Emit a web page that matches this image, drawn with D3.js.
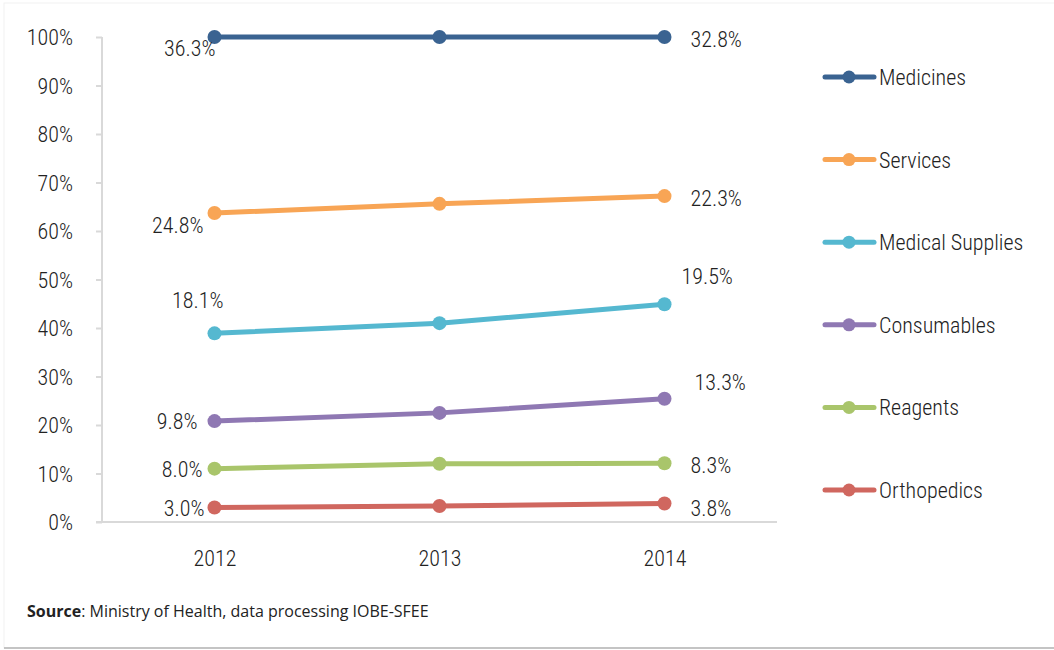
<!DOCTYPE html>
<html>
<head>
<meta charset="utf-8">
<script src="https://cdn.jsdelivr.net/npm/d3@7"></script>
<style>
  body { margin: 0; background: #fff; }
  text { fill: #222; }
  .lbl { font-family: "Liberation Sans Narrow", "Roboto Condensed", "Roboto", sans-serif; font-size: 22px; font-weight: 300; }
  .src { font-family: "Open Sans", "Roboto", sans-serif; font-size: 16px; }
</style>
</head>
<body>
<svg id="chart"></svg>
<script>
    const svg_width = 1054;
    const svg_height = 650;

    // data: share of spending (%) per category, bottom of the stack first
    var years = ["2012", "2013", "2014"];
    var categories = ["Orthopedics", "Reagents", "Consumables", "Medical Supplies", "Services", "Medicines"];
    var orthopedics = [3.0, 3.3, 3.8];
    var reagents = [8.0, 8.7, 8.3];
    var consumables = [9.8, 10.5, 13.3];
    var medicalSupplies = [18.1, 18.5, 19.5];
    var services = [24.8, 24.6, 22.3];
    var medicines = [36.3, 34.4, 32.8];
    var yTicks = [0, 10, 20, 30, 40, 50, 60, 70, 80, 90, 100];

    var seriesValues = [orthopedics, reagents, consumables, medicalSupplies, services, medicines];
    var colors = ["#d0675f", "#a9c56b", "#8f78b3", "#55b8d0", "#f8a555", "#3a6391"];

    // where the first / last value labels sit relative to their markers
    var firstLabel = [[-10, 1], [-12, 0], [-17, 0], [9, -33], [-11, 12], [1, 11]];
    var lastLabel = [[26, 5], [26, 2], [30, -17], [17, -28], [26, 2], [26, 2]];

    var margin = { top: 37, left: 102, bottom: 128, right: 277 };
    var width = svg_width - margin.left - margin.right;
    var height = svg_height - margin.top - margin.bottom;

    var svg = d3.select("svg#chart")
        .attr("width", svg_width)
        .attr("height", svg_height);

    // card frame
    svg.append("rect")
        .attr("x", 4).attr("y", 3)
        .attr("width", svg_width + 10).attr("height", svg_height - 5)
        .attr("fill", "#fff")
        .attr("stroke", "#f1f1f1");
    svg.append("line")
        .attr("x1", 4).attr("x2", svg_width)
        .attr("y1", 648).attr("y2", 648)
        .attr("stroke", "#c4c4c4").attr("stroke-width", 2);

    // table for d3.stack
    var table = years.map((y, i) => {
      let row = { year: y };
      categories.forEach((c, k) => row[c] = seriesValues[k][i]);
      return row;
    });
    var stacked = d3.stack().keys(categories)(table);

    var x = d3.scalePoint().domain(years).range([0, width]).padding(0.5);
    var y = d3.scaleLinear().domain([0, 100]).range([height, 0]);

    var g = svg.append("g").attr("transform", translate(margin.left, margin.top));

    var yAxis = d3.axisLeft(y).tickValues(yTicks).tickSize(6).tickPadding(23)
        .tickFormat(d => d + "%");
    var gy = g.append("g").call(yAxis);
    gy.select(".domain").attr("stroke", "#d9d9d9").attr("stroke-width", 2)
      .attr("d", "M0," + y(0) + "V" + y(100));
    gy.selectAll(".tick line").attr("stroke", "#d9d9d9").attr("stroke-width", 2);
    gy.selectAll(".tick text").attr("class", "lbl").attr("font-size", null).attr("font-family", null)
      .attr("fill", null).attr("dy", "0.36em").attr("x", -29);

    var xAxis = d3.axisBottom(x).tickSize(0).tickPadding(28);
    var gx = g.append("g").attr("transform", translate(0, height)).call(xAxis);
    gx.select(".domain").attr("stroke", "#d9d9d9").attr("stroke-width", 2)
      .attr("d", "M-6,0H" + width);
    gx.selectAll(".tick text").attr("class", "lbl").attr("font-size", null).attr("font-family", null)
      .attr("fill", null);

    var line = d3.line()
        .x(d => x(d.data.year))
        .y(d => y(d[1]));

    // draw top series last so it sits on top
    stacked.forEach((s, k) => {
      let sg = g.append("g");
      sg.append("path")
        .datum(s)
        .attr("d", line)
        .attr("fill", "none")
        .attr("stroke", colors[k])
        .attr("stroke-width", 5)
        .attr("stroke-linecap", "round");
      sg.selectAll("circle")
        .data(s)
        .enter()
        .append("circle")
        .attr("cx", d => x(d.data.year))
        .attr("cy", d => y(d[1]))
        .attr("r", 7)
        .attr("fill", colors[k]);

      let first = s[0], last = s[s.length - 1];
      sg.append("text")
        .attr("class", "lbl")
        .attr("text-anchor", "end")
        .attr("x", x(first.data.year) + firstLabel[k][0])
        .attr("y", y(first[1]) + firstLabel[k][1])
        .attr("dy", "0.36em")
        .text(seriesValues[k][0].toFixed(1) + "%");
      sg.append("text")
        .attr("class", "lbl")
        .attr("text-anchor", "start")
        .attr("x", x(last.data.year) + lastLabel[k][0])
        .attr("y", y(last[1]) + lastLabel[k][1])
        .attr("dy", "0.36em")
        .text(seriesValues[k][seriesValues[k].length - 1].toFixed(1) + "%");
    });

    // legend, top entry is the top series
    var legendY = d3.scalePoint().domain(categories.slice().reverse()).range([77, 490]);
    var legend = svg.append("g");
    categories.forEach((c, k) => {
      let ly = legendY(c);
      legend.append("line")
        .attr("x1", 825).attr("x2", 874)
        .attr("y1", ly).attr("y2", ly)
        .attr("stroke", colors[k]).attr("stroke-width", 5)
        .attr("stroke-linecap", "round");
      legend.append("circle")
        .attr("cx", 849).attr("cy", ly).attr("r", 6.5)
        .attr("fill", colors[k]);
      legend.append("text")
        .attr("class", "lbl")
        .attr("x", 879).attr("y", ly)
        .attr("dy", "0.36em")
        .text(c);
    });

    // source note
    var src = svg.append("text").attr("class", "src").attr("x", 27).attr("y", 617);
    src.append("tspan").attr("font-weight", "bold").text("Source");
    src.append("tspan").text(": Ministry of Health, data processing IOBE-SFEE");

    function translate(x, y) {
      return 'translate(' + String(x) + ',' + String(y) + ')';
    }
</script>
</body>
</html>
